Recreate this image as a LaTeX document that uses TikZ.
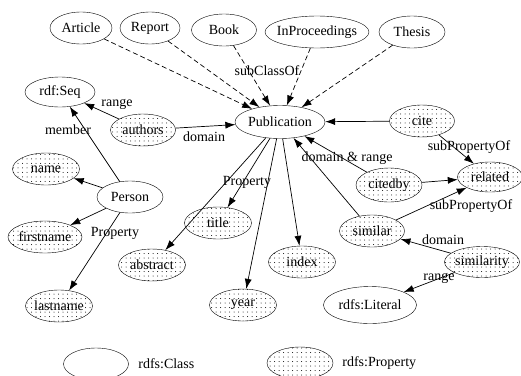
\documentclass[tikz,border=0pt]{standalone}
\usepackage{fontspec}
\setmainfont{Liberation Serif}
\usetikzlibrary{shapes.geometric,patterns.meta,arrows.meta}

\tikzset{
  cls/.style={ellipse, draw, thin, inner xsep=-12pt, inner ysep=0pt,
    minimum width=#1, minimum height=32},
  cls/.default=66,
  prop/.style={cls=#1, pattern={Dots[radius=.5pt, distance=4.5pt]}},
  prop/.default=67,
  lbl/.style={inner sep=0pt}
}

\begin{document}
\begin{tikzpicture}[x=1pt, y=-1pt, font=\fontsize{14pt}{16pt}\selectfont,
  >={Latex[length=10pt,width=7pt]}, line width=.7pt]

  \useasboundingbox (0,0) rectangle (521,375);

  \node[cls=62] (art) at (81,28) {Article};
  \node[cls=60] (rep) at (150,28) {Report};
  \node[cls=65] (book) at (224,30) {Book};
  \node[cls=104] (inproc) at (317,32) {InProceedings};
  \node[cls=66] (thesis) at (412,32) {Thesis};

  \node[cls=90, minimum height=33] (pub) at (280,122) {Publication};
  \node[cls=70, minimum height=30] (seq) at (60,92) {rdf:Seq};
  \node[cls] (person) at (130,197) {Person};
  \node[cls=93, minimum height=37] (lit) at (370,305) {rdfs:Literal};

  \node[prop=65] (authors) at (143,130) {authors};
  \node[prop] (name) at (46,169) {name};
  \node[prop=74] (first) at (45,237) {firstname};
  \node[prop] (last) at (59,306) {lastname};
  \node[prop] (abstract) at (152,265) {abstract};
  \node[prop] (title) at (218,223) {title};
  \node[prop] (year) at (243,305) {year};
  \node[prop] (index) at (302,262) {index};
  \node[prop=65] (cite) at (422,121) {cite};
  \node[prop=66, minimum height=34] (citedby) at (389,185) {citedby};
  \node[prop=65, minimum height=30] (related) at (490,177) {related};
  \node[prop=65] (similar) at (372,231) {similar};
  \node[prop=75, minimum height=31] (simty) at (482,262) {similarity};

  \foreach \c in {art,rep,book,inproc,thesis}
    \draw[->, dash pattern=on 5pt off 3pt] (\c) -- (pub);

  \foreach \p in {abstract,title,year,index}
    \draw[->] (pub) -- (\p);

  \foreach \p in {name,first,last,seq}
    \draw[->] (person) -- (\p);

  \foreach \p in {similar,citedby,cite,authors}
    \draw[->] (\p) -- (pub);

  \foreach \p in {cite,citedby,similar}
    \draw[->] (\p) -- (related);

  \draw[->] (authors) -- (seq);
  \draw[->] (simty) -- (similar);
  \draw[->] (simty) -- (lit);

  \begin{scope}[every node/.style={lbl}]
    \node (lsub) at (267,71) {subClassOf};
    \node (lrange) at (117,104) {range};
    \node (ldomain) at (204,137) {domain};
    \node (lmember) at (68,130) {member};
    \node (lpropa) at (115,233) {Property};
    \node (lpropb) at (247,182) {Property};
    \node (ldr) at (347,158) {domain \& range};
    \node (lsuba) at (469,147) {subPropertyOf};
    \node (lsubb) at (471,206) {subPropertyOf};
    \node (ldomb) at (443,240) {domain};
    \node (lrangeb) at (439,278) {range};
  \end{scope}

  \node[cls=65] (keycls) at (96,364) {};
  \node[lbl, right] (keyclstxt) at (138,364) {rdfs:Class};
  \node[prop=66] (keyprop) at (300,363) {};
  \node[lbl, right] (keyproptxt) at (342,363) {rdfs:Property};
\end{tikzpicture}
\end{document}
